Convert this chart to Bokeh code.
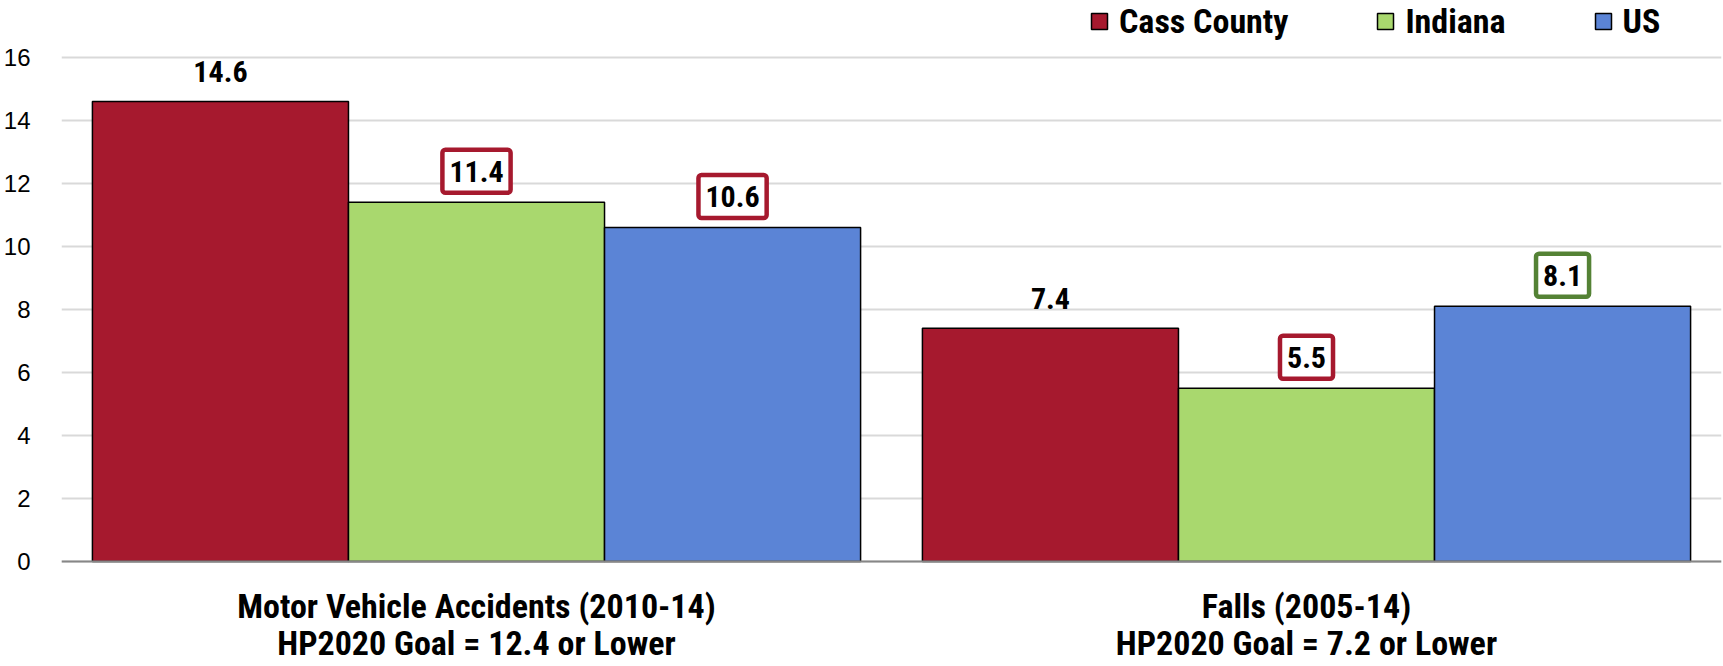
from bokeh.plotting import figure
from bokeh.models import ColumnDataSource, FactorRange, Range1d, FixedTicker, Legend, LegendItem, Span
from bokeh.transform import dodge
from bokeh.core.properties import value
from bokeh.embed import file_html
from bokeh.resources import INLINE

categories = ["Motor Vehicle Accidents (2010-14)", "Falls (2005-14)"]
goals = ["HP2020 Goal = 12.4 or Lower", "HP2020 Goal = 7.2 or Lower"]
series = ["Cass County", "Indiana", "US"]
cass = [14.6, 7.4]
indiana = [11.4, 5.5]
us = [10.6, 8.1]
y_ticks = [0, 2, 4, 6, 8, 10, 12, 14, 16]

factors = [f"{c}\n{g}" for c, g in zip(categories, goals)]

colors = ["#A6192E", "#A9D86E", "#5B84D6"]
RED, GREEN = "#A6192E", "#548235"
box_colors = {"Cass County": [None, None],
              "Indiana": [RED, RED],
              "US": [RED, GREEN]}

NARROW = "Roboto Condensed, Liberation Sans"

p = figure(x_range=FactorRange(factors=factors, range_padding=0),
           y_range=Range1d(-0.1267, 17.806),
           width=1723, height=666, output_backend="svg", toolbar_location=None,
           min_border_left=60, min_border_right=2, min_border_top=0, min_border_bottom=0)

W = 0.3085
offsets = [-W, 0, W]
renderers = []
for name, vals, col, off in zip(series, [cass, indiana, us], colors, offsets):
    bc = box_colors[name]
    src = ColumnDataSource(dict(
        cat=factors, val=vals,
        lbl=[f"{v:.1f}" for v in vals],
        bcol=[c if c else "white" for c in bc],
        balpha=[1.0 if c else 0.0 for c in bc],
        yoff=[-31 if c else -30 for c in bc],
    ))
    r = p.vbar(x=dodge("cat", off, range=p.x_range), top="val", bottom=0, width=W, source=src,
               fill_color=col, line_color="black", line_width=1.5)
    renderers.append(r)
    p.text(x=dodge("cat", off, range=p.x_range), y="val", text="lbl", source=src,
           y_offset="yoff", text_align="center", text_baseline="middle",
           text_font=value(NARROW), text_font_style="bold", text_font_size="30px",
           text_color="black",
           background_fill_color="white", background_fill_alpha="balpha",
           border_line_color="bcol", border_line_alpha="balpha", border_line_width=4.5,
           padding=(7, 11), border_radius=3)

p.add_layout(Span(location=0, dimension="width", line_color="#878787", line_width=2))

legend = Legend(items=[LegendItem(label=s, renderers=[r]) for s, r in zip(series, renderers)],
                orientation="horizontal", location=(1028, 524),
                glyph_width=20, glyph_height=20, label_standoff=10, spacing=87,
                padding=0, margin=0, border_line_alpha=0, background_fill_alpha=0,
                label_text_font=NARROW, label_text_font_style="bold",
                label_text_font_size="34px", label_text_color="black")
p.add_layout(legend)

p.outline_line_color = None
p.xgrid.grid_line_color = None
p.ygrid.grid_line_color = "#D9D9D9"
p.ygrid.grid_line_width = 2
p.yaxis.ticker = FixedTicker(ticks=y_ticks)
p.yaxis.axis_line_color = None
p.yaxis.major_tick_line_color = None
p.yaxis.minor_tick_line_color = None
p.yaxis.major_label_text_font = "Liberation Sans"
p.yaxis.major_label_text_font_size = "24px"
p.yaxis.major_label_text_color = "black"
p.yaxis.major_label_standoff = 25

p.xaxis.axis_line_color = None
p.xaxis.major_tick_line_color = None
p.xaxis.minor_tick_line_color = None
p.xaxis.major_label_text_font = NARROW
p.xaxis.major_label_text_font_style = "bold"
p.xaxis.major_label_text_font_size = "34px"
p.xaxis.major_label_text_line_height = 0.94
p.xaxis.major_label_text_color = "black"
p.xaxis.major_label_standoff = 14

open("out.html", "w").write(file_html(p, INLINE))
